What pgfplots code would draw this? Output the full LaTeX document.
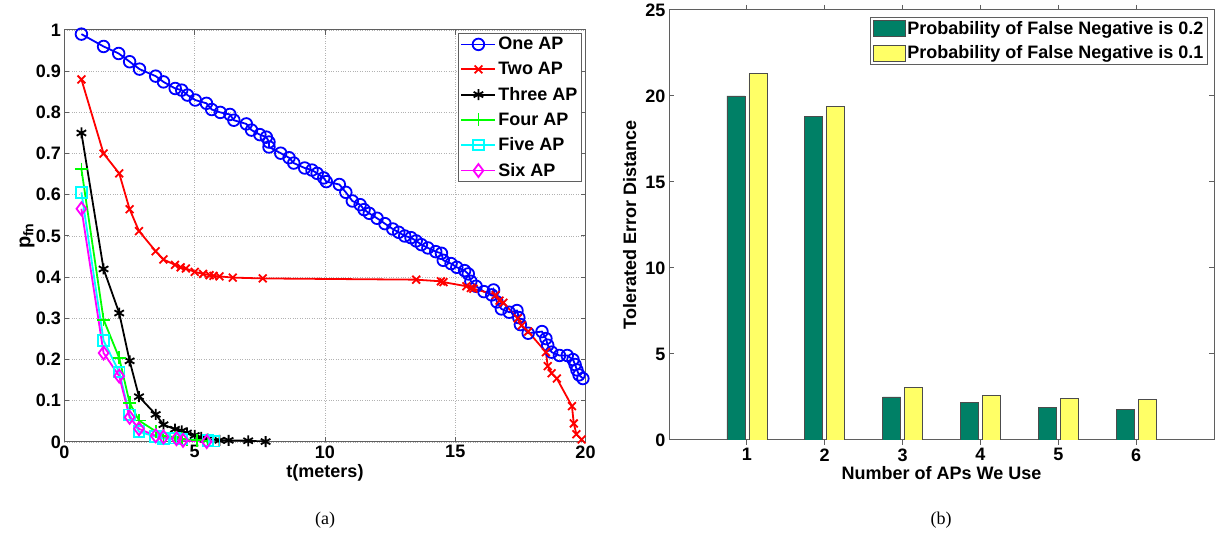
\documentclass[border=0pt]{standalone}
\usepackage{fontspec}
\setmainfont{Liberation Sans}
\newfontfamily\capfont{Liberation Serif}
\usepackage{pgfplots}
\pgfplotsset{compat=1.18}

\definecolor{axgray}{RGB}{95,95,95}
\definecolor{bargreen}{RGB}{0,128,102}
\definecolor{baryellow}{RGB}{255,255,102}
\definecolor{mblue}{RGB}{0,0,255}
\definecolor{mred}{RGB}{255,0,0}
\definecolor{mgreen}{RGB}{0,255,0}
\definecolor{mcyan}{RGB}{0,255,255}
\definecolor{mmag}{RGB}{255,0,255}

\begin{document}
\begin{tikzpicture}
\useasboundingbox (0pt,0pt) rectangle (1221pt,545pt);
\pgfplotsset{
  every axis/.append style={
    scale only axis,
    font=\fontsize{18}{21}\selectfont\bfseries,
    /pgf/number format/assume math mode=true,
    tick align=inside,
    major tick length=5pt,
    axis line style={axgray, line width=1pt},
    every tick/.style={axgray, line width=1pt},
    tick label style={font=\fontsize{18}{21}\selectfont\bfseries, text=black},
    label style={font=\fontsize{18}{21}\selectfont\bfseries},
    legend style={font=\fontsize{18}{21}\selectfont\bfseries, draw=axgray, line width=1pt,
      inner sep=2pt, row sep=7pt, legend cell align=left},
  }
}
% ---------------- (a) ----------------
\begin{axis}[
  at={(64.5pt,103pt)}, anchor=south west,
  width=521pt, height=412pt,
  xmin=0, xmax=20, ymin=0, ymax=1,
  xtick={0,5,10,15,20},
  ytick={0,0.1,0.2,0.3,0.4,0.5,0.6,0.7,0.8,0.9,1},
  grid=major,
  major grid style={dotted, gray!60, line width=0.8pt},
  xlabel={t(meters)},
  ylabel={p\textsubscript{fn}},
  xlabel style={at={(axis description cs:0.5,-0.075)}, anchor=center},
  ylabel style={at={(axis description cs:-0.072,0.5)}, anchor=center, font=\fontsize{20}{24}\selectfont\bfseries},
  legend style={at={(0.993,0.993)}, anchor=north east},
  legend image code/.code={\draw[mark repeat=2,mark phase=2,#1] plot coordinates {(0pt,0pt) (17pt,0pt) (34pt,0pt)};},
  every axis plot/.append style={line width=1.8pt},
]
\addplot[mblue, mark=o, mark size=5.8pt] coordinates {
(0.65,0.99) (1.5,0.96) (2.08,0.943) (2.5,0.923) (2.88,0.905) (3.5,0.888) (3.8,0.874)
(4.25,0.858) (4.5,0.854) (4.72,0.842) (5.02,0.83) (5.45,0.822) (5.65,0.807) (5.98,0.80)
(6.35,0.795) (6.5,0.781) (6.98,0.772) (7.18,0.757) (7.5,0.746) (7.75,0.74) (7.85,0.728)
(7.85,0.716) (8.3,0.701) (8.62,0.69) (8.8,0.677) (9.22,0.665) (9.5,0.66) (9.7,0.652)
(9.95,0.641) (10.05,0.632) (10.55,0.625) (10.8,0.606) (11.05,0.585) (11.35,0.576)
(11.5,0.564) (11.7,0.555) (12.0,0.543) (12.3,0.53) (12.6,0.517) (12.83,0.509) (13.06,0.50)
(13.3,0.496) (13.5,0.488) (13.7,0.479) (13.95,0.471) (14.25,0.462) (14.47,0.458)
(14.54,0.441) (14.84,0.433) (15.06,0.424) (15.36,0.416) (15.5,0.408) (15.6,0.39)
(15.8,0.378) (16.1,0.365) (16.4,0.357) (16.47,0.369) (16.6,0.34) (16.77,0.323)
(17.07,0.315) (17.37,0.319) (17.44,0.302) (17.5,0.285) (17.8,0.264) (18.33,0.268)
(18.48,0.251) (18.55,0.235) (18.7,0.218) (19.0,0.21) (19.3,0.21) (19.52,0.20)
(19.6,0.188) (19.67,0.175) (19.75,0.163) (19.9,0.154)
};
\addlegendentry{One AP}
\addplot[mred, mark=x, mark size=5.5pt] coordinates {
(0.65,0.88) (1.5,0.70) (2.1,0.652) (2.5,0.565) (2.86,0.512) (3.5,0.463) (3.8,0.443)
(4.24,0.43) (4.46,0.424) (4.66,0.421) (5.0,0.413) (5.32,0.408) (5.57,0.405) (5.72,0.403)
(5.95,0.402) (6.46,0.399) (7.61,0.397) (13.5,0.394) (14.45,0.39) (14.55,0.388)
(15.43,0.378) (15.6,0.374) (15.7,0.372) (16.55,0.357) (16.7,0.343) (16.85,0.338)
(17.4,0.30) (17.55,0.283) (17.8,0.268) (18.48,0.218) (18.55,0.184) (18.7,0.167)
(18.9,0.154) (19.48,0.087) (19.55,0.045) (19.65,0.019) (19.85,0.006)
};
\addlegendentry{Two AP}
\addplot[black, mark=asterisk, mark size=5.5pt] coordinates {
(0.65,0.75) (1.5,0.42) (2.1,0.313) (2.5,0.197) (2.86,0.11) (3.5,0.067) (3.8,0.042)
(4.24,0.031) (4.5,0.027) (4.7,0.022) (5.0,0.016) (5.25,0.011) (5.5,0.007) (5.95,0.004)
(6.3,0.004) (7.05,0.003) (7.72,0.001)
};
\addlegendentry{Three AP}
\addplot[mgreen, mark=+, mark size=6.5pt] coordinates {
(0.65,0.662) (1.5,0.297) (2.1,0.204) (2.5,0.095) (2.86,0.052) (3.5,0.026) (3.8,0.015)
(4.24,0.012) (4.5,0.008) (4.7,0.006) (5.1,0.004) (5.5,0.003)
};
\addlegendentry{Four AP}
\addplot[mcyan, mark=square, mark size=5.3pt] coordinates {
(0.65,0.606) (1.5,0.246) (2.1,0.17) (2.5,0.066) (2.86,0.025) (3.5,0.013) (3.8,0.008)
(4.24,0.009) (4.5,0.007) (5.5,0.004) (5.75,0.002)
};
\addlegendentry{Five AP}
\addplot[mmag, mark=diamond, mark size=6.5pt] coordinates {
(0.65,0.566) (1.5,0.216) (2.1,0.16) (2.5,0.06) (2.86,0.032) (3.5,0.015) (3.8,0.012)
(4.3,0.008) (4.55,0.004) (5.46,0.001)
};
\addlegendentry{Six AP}
\end{axis}
\node[font=\capfont\fontsize{18}{21}\selectfont] at (325pt,25pt) {(a)};
% ---------------- (b) ----------------
\begin{axis}[
  at={(669pt,105pt)}, anchor=south west,
  width=545pt, height=430pt,
  xmin=0, xmax=7, ymin=0, ymax=25,
  ybar=4pt, bar width=18pt,
  xtick={1,2,3,4,5,6},
  ytick={0,5,10,15,20,25},
  xlabel={Number of APs We Use},
  ylabel={Tolerated Error Distance},
  xlabel style={at={(axis description cs:0.5,-0.078)}, anchor=center},
  ylabel style={at={(axis description cs:-0.072,0.5)}, anchor=center},
  legend style={at={(0.989,0.984)}, anchor=north east, inner sep=2pt, row sep=6pt},
  legend image code/.code={\draw[#1] (0pt,-8pt) rectangle (32pt,8pt);},
]
\addplot[fill=bargreen, draw=black!70, line width=0.7pt] coordinates {
(1,20) (2,18.8) (3,2.5) (4,2.2) (5,1.9) (6,1.78)
};
\addlegendentry{Probability of False Negative is 0.2}
\addplot[fill=baryellow, draw=black!70, line width=0.7pt] coordinates {
(1,21.3) (2,19.4) (3,3.08) (4,2.6) (5,2.4) (6,2.36)
};
\addlegendentry{Probability of False Negative is 0.1}
\end{axis}
\node[font=\capfont\fontsize{18}{21}\selectfont] at (941pt,25pt) {(b)};
\end{tikzpicture}
\end{document}
